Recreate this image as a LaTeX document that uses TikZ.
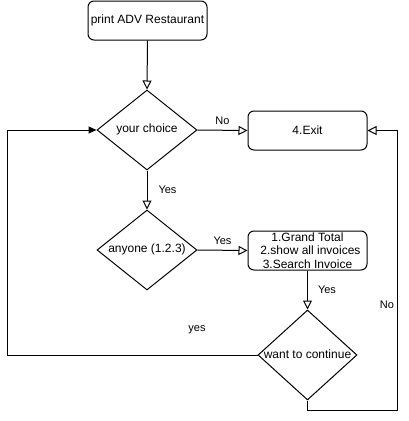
\documentclass[tikz,border=0pt]{standalone}
\usepackage{fontspec}
\setmainfont{Liberation Sans}
\usetikzlibrary{arrows.meta,shapes.geometric}
\begin{document}
\begin{tikzpicture}[x=1pt,y=-1pt,line width=1pt,
  box/.style={draw,rounded corners=6pt,minimum width=119pt,minimum height=39pt,inner sep=1pt,font=\fontsize{12}{13.5}\selectfont,align=center},
  dia/.style={draw,diamond,inner sep=0pt},
  txt/.style={font=\fontsize{12}{14}\selectfont,inner sep=0pt},
  lbl/.style={font=\fontsize{11}{13}\selectfont,inner sep=0pt},
  oarr/.style={-{Triangle[open,length=9pt,width=9pt]}},
  farr/.style={-{Triangle[length=8pt,width=7pt]}}]
\useasboundingbox (0,0) rectangle (408,421);
\node[box] (print) at (147.5,20.5) {print ADV Restaurant};
\node[dia,minimum width=100pt,minimum height=80pt] (ch) at (147,130) {};
\node[txt] (cht) at (147,129) {your choice};
\node[box] (exit) at (307.5,130.5) {4.Exit};
\node[dia,minimum width=100pt,minimum height=80pt] (any) at (147,250) {};
\node[txt] (anyt) at (147,249) {anyone (1.2.3)};
\node[box,inner sep=0pt] (opt) at (307.5,250.5) {1.Grand Total\\\hspace*{6pt}2.show all invoices\\3.Search Invoice};
\node[dia,minimum width=99pt,minimum height=90pt] (want) at (307.5,355) {};
\node[txt] (wantt) at (307.5,354) {want to continue};
\coordinate (l1) at (7,355);
\coordinate (l2) at (7,130);
\coordinate (r1) at (307.5,410);
\coordinate (r2) at (397,410);
\coordinate (r3) at (397,130.5);
\draw[oarr] (print.south) -- (ch.north);
\draw[oarr] (ch.east) -- (exit.west) node[lbl,pos=0.5,above=5pt] (no1) {No};
\draw[oarr] (ch.south) -- (any.north) node[lbl,pos=0.5,right=11pt] (yes1) {Yes};
\draw[oarr] (any.east) -- (opt.west) node[lbl,pos=0.5,above=5pt] (yes2) {Yes};
\draw[oarr] (opt.south) -- (want.north) node[lbl,pos=0.5,right=10pt] (yes3) {Yes};
\draw[farr] (want.west) -- (l1) -- (l2) -- (ch.west);
\draw[oarr] (want.south) -- (r1) -- (r2) -- (r3) -- (exit.east);
\node[lbl] (yes4) at (197,330) {yes};
\node[lbl] (no2) at (387,305) {No};
\end{tikzpicture}
\end{document}
